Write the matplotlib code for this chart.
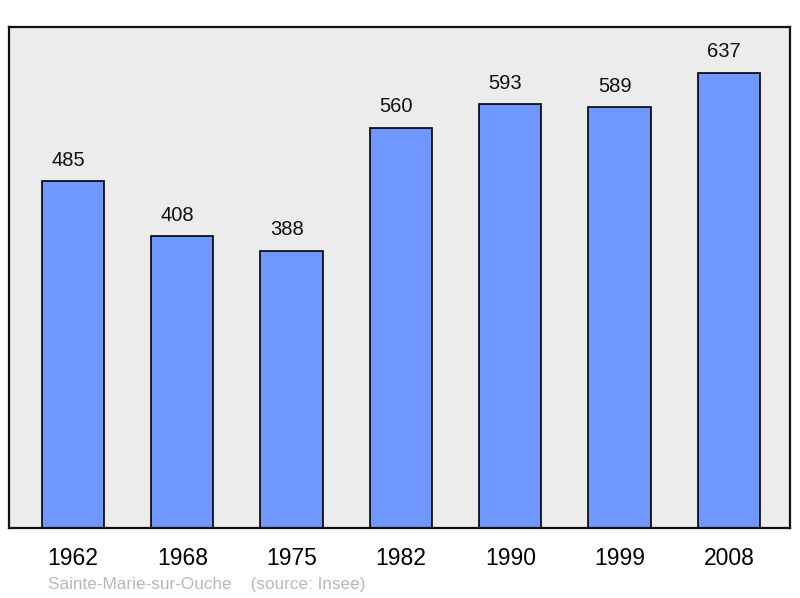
import matplotlib
matplotlib.use('Agg')
import matplotlib.pyplot as plt
import numpy as np

plt.rcParams['font.family'] = ['Liberation Sans', 'DejaVu Sans']

years = ['1962', '1968', '1975', '1982', '1990', '1999', '2008']
population = [485, 408, 388, 560, 593, 589, 637]

fig = plt.figure(figsize=(8, 5.98), dpi=100)
ax = fig.add_axes([9/800, 70/598, 781/800, 501/598])
ax.set_facecolor('#ececec')

x = np.arange(len(years))
ax.bar(x, population, width=0.57, color='#7097ff', edgecolor='black', linewidth=1.2, zorder=2)

# labels sit a little left of the bar centre in the original
for xi, v in zip(x, population):
    ax.annotate(str(v), (xi, v), xytext=(-3.5, 15), textcoords='offset points',
                ha='center', va='center', fontsize=14.5, color='#111111')

ax.set_xlim(-0.585, 6.558)
ax.set_ylim(0, 701)
ax.set_yticks([])
ax.set_xticks(x)
ax.set_xticklabels(years, fontsize=16.5)
ax.tick_params(axis='x', length=0, pad=13.5)
for s in ax.spines.values():
    s.set_linewidth(1.6)
    s.set_color('#111111')

fig.text(48/800, 1 - 584/598, 'Sainte-Marie-sur-Ouche    (source: Insee)',
         fontsize=12.3, color='#b8b8b8', va='center', ha='left')

fig.savefig('out.png', dpi=100)
